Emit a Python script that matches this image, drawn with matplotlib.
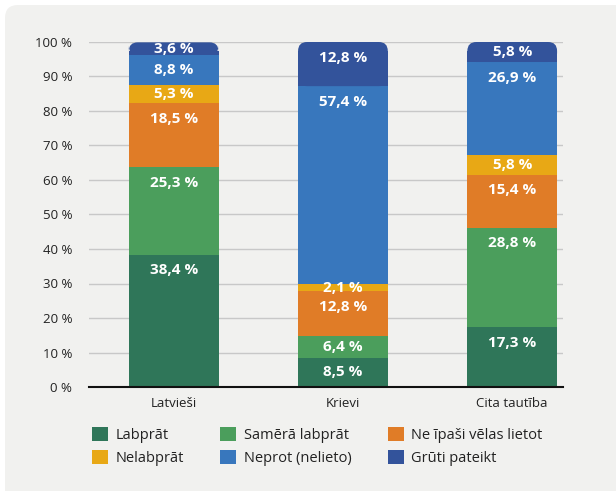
import matplotlib.pyplot as plt
from matplotlib.patches import FancyBboxPatch, Rectangle

plt.rcParams['font.family'] = ['Open Sans', 'DejaVu Sans']

groups = ["Latvieši", "Krievi", "Cita tautība"]
answers = ["Labprāt", "Samērā labprāt", "Ne īpaši vēlas lietot",
           "Nelabprāt", "Neprot (nelieto)", "Grūti pateikt"]
labprat = [38.4, 8.5, 17.3]
samera = [25.3, 6.4, 28.8]
ne_ipasi = [18.5, 12.8, 15.4]
nelabprat = [5.3, 2.1, 5.8]
neprot = [8.8, 57.4, 26.9]
gruti = [3.6, 12.8, 5.8]
series = [labprat, samera, ne_ipasi, nelabprat, neprot, gruti]
colors = ["#2f7659", "#4b9e5c", "#e07c27", "#e8a815", "#3877bd", "#33539b"]

fig = plt.figure(figsize=(6.16, 4.91), dpi=100)
fig.patch.set_facecolor("white")

# panel with rounded corner (cut by the right and bottom edges)
panel = FancyBboxPatch((0.05, -0.3), 6.5, 4.91 - 0.05 + 0.3,
                       boxstyle="round,pad=0,rounding_size=0.13",
                       transform=fig.dpi_scale_trans,
                       facecolor="#f1f1ef", edgecolor="none", zorder=-10)
fig.patches.append(panel)

ax = fig.add_axes([89 / 616, 1 - 387 / 491, 474 / 616, 345 / 491])
ax.set_facecolor("none")

x = range(len(groups))
width = 0.53
ax.set_xlim(-0.5, 2.3)
ax.set_ylim(0, 100)

# aspect for rounded top corners
px_x = 474 / 2.8
px_y = 345 / 100
r_px = 9
rx = r_px / px_x
ry = r_px / px_y

bottoms = [0, 0, 0]
for k, (vals, col) in enumerate(zip(series, colors)):
    for i, v in enumerate(vals):
        b = bottoms[i]
        x0 = i - width / 2
        if k == len(series) - 1:
            ax.add_patch(FancyBboxPatch((x0, b), width, v,
                                        boxstyle=f"round,pad=0,rounding_size={rx}",
                                        mutation_aspect=ry / rx,
                                        facecolor=col, edgecolor="none", zorder=3))
            ax.add_patch(Rectangle((x0, b), width, max(v - ry, 0),
                                   facecolor=col, edgecolor="none", zorder=3))
        else:
            ax.bar(i, v, width, bottom=b, color=col, zorder=3)
        top = b + v
        ty = top - min(4.5, v / 2)
        ax.text(i, ty, f"{v:.1f} %".replace(".", ","), ha="center", va="center",
                color="white", fontsize=11, fontweight="bold", zorder=4)
        bottoms[i] = top
    ax.bar(0, 0, 0, color=col, label=answers[k])

ax.set_yticks(range(0, 101, 10))
ax.set_yticklabels([f"{t} %" for t in range(0, 101, 10)])
ax.set_xticks(list(x))
ax.set_xticklabels(groups)
ax.tick_params(axis="y", length=0, pad=12, labelsize=9.5, labelcolor="#222222")
ax.tick_params(axis="x", length=0, pad=7, labelsize=9.5, labelcolor="#222222")
ax.grid(axis="y", color="#c8c8c8", linewidth=1, zorder=0)
for s in ["top", "right", "left"]:
    ax.spines[s].set_visible(False)
ax.spines["bottom"].set_color("#111111")
ax.spines["bottom"].set_linewidth(1.5)
ax.spines["bottom"].set_zorder(5)

handles, labels = ax.get_legend_handles_labels()
order = [0, 3, 1, 4, 2, 5]
fig.legend([handles[j] for j in order], [labels[j] for j in order],
           ncol=3, loc="upper left", bbox_to_anchor=(79 / 616, 1 - 414 / 491),
           frameon=False, fontsize=10.5, handlelength=1.1, handleheight=1.1,
           handletextpad=0.5, columnspacing=2.5, labelspacing=0.45,
           labelcolor="#222222")

fig.savefig("out.png", dpi=100)
